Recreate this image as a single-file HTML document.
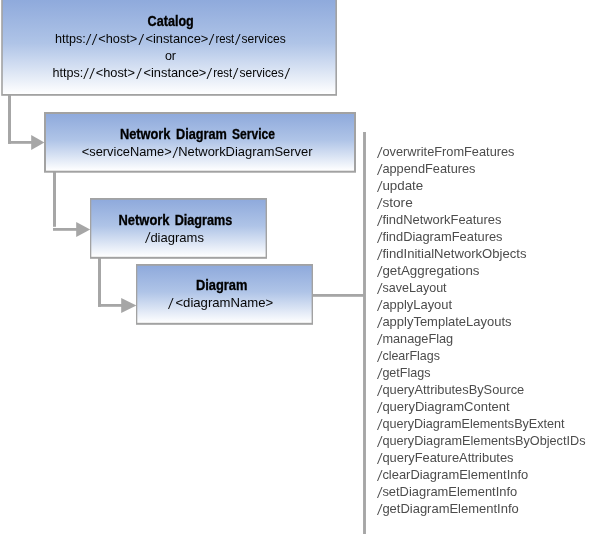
<!DOCTYPE html>
<html lang="en"><head><meta charset="utf-8"><title>Network Diagram Service</title>
<style>
html,body{margin:0;padding:0;background:#fff;}
body{width:609px;height:534px;overflow:hidden;}
svg{display:block;will-change:transform;}
text{font-family:"Liberation Sans",Arial,sans-serif;font-size:13px;}
.b{font-weight:bold;fill:#000;stroke:#000;stroke-width:.3px;font-size:13.8px;}
.n{fill:#050505;}
.l{fill:#4c4c4c;}
.s{font-size:15.2px;font-style:italic;}
</style></head><body>
<svg width="609" height="534" viewBox="0 0 609 534">
<defs>
<linearGradient id="g" x1="0" y1="0" x2="0" y2="1">
<stop offset="0" stop-color="#8faadc"/>
<stop offset="0.46" stop-color="#afc4e7"/>
<stop offset="1" stop-color="#ffffff"/>
</linearGradient>
</defs>
<rect x="0" y="0" width="609" height="534" fill="#fff"/>

<g fill="#a6a6a6">
<rect x="8" y="95" width="3" height="48.8"/><rect x="8" y="141" width="25" height="2.8"/><polygon points="31.2,135 44.4,142.4 31.2,149.9"/>
<rect x="53" y="172" width="3" height="54.8"/><rect x="53" y="228" width="25" height="2.8"/><polygon points="76.2,222.1 90.2,229.5 76.2,236.9"/>
<rect x="98" y="258" width="3" height="48.8"/><rect x="98" y="304" width="25" height="2.8"/><polygon points="121.2,297.9 136.4,305.4 121.2,312.9"/>
<rect x="312" y="294" width="52" height="2.8"/><rect x="363.05" y="132" width="2.9" height="402"/>
</g>
<rect x="1.2" y="-2" width="335.8" height="97.8" fill="#a2a2a2"/><rect x="2.8" y="0" width="332.6" height="94.0" fill="url(#g)"/>
<rect x="44" y="112" width="312" height="60.7" fill="#a2a2a2"/><rect x="46" y="114" width="308" height="56.7" fill="url(#g)"/>
<rect x="90" y="198" width="177" height="60.8" fill="#a2a2a2"/><rect x="91.3" y="199.8" width="174.3" height="57.0" fill="url(#g)"/>
<rect x="136" y="264" width="177" height="60.8" fill="#a2a2a2"/><rect x="137.3" y="265.8" width="174.3" height="57.0" fill="url(#g)"/>
<text class="b"><tspan x="147.60" y="26" textLength="46.19" lengthAdjust="spacingAndGlyphs">Catalog</tspan></text>
<text class="n"><tspan x="54.90" y="43" textLength="30.79" lengthAdjust="spacingAndGlyphs">https:</tspan><tspan class="s" x="86.6" y="44.8" textLength="3.67" lengthAdjust="spacingAndGlyphs">/</tspan><tspan class="s" x="92.4" y="44.8" textLength="3.67" lengthAdjust="spacingAndGlyphs">/</tspan><tspan x="98.30" y="43" textLength="38.98" lengthAdjust="spacingAndGlyphs">&lt;host&gt;</tspan><tspan class="s" x="139.3" y="44.8" textLength="3.67" lengthAdjust="spacingAndGlyphs">/</tspan><tspan x="145.40" y="43" textLength="62.99" lengthAdjust="spacingAndGlyphs">&lt;instance&gt;</tspan><tspan class="s" x="209.4" y="44.8" textLength="3.67" lengthAdjust="spacingAndGlyphs">/</tspan><tspan x="215.40" y="43" textLength="18.86" lengthAdjust="spacingAndGlyphs">rest</tspan><tspan class="s" x="235.7" y="44.8" textLength="3.67" lengthAdjust="spacingAndGlyphs">/</tspan><tspan x="241.60" y="43" textLength="44.14" lengthAdjust="spacingAndGlyphs">services</tspan></text>
<text class="n"><tspan x="164.90" y="60" textLength="11.15" lengthAdjust="spacingAndGlyphs">or</tspan></text>
<text class="n"><tspan x="52.50" y="77" textLength="30.79" lengthAdjust="spacingAndGlyphs">https:</tspan><tspan class="s" x="84.1" y="78.8" textLength="3.67" lengthAdjust="spacingAndGlyphs">/</tspan><tspan class="s" x="90.0" y="78.8" textLength="3.67" lengthAdjust="spacingAndGlyphs">/</tspan><tspan x="95.70" y="77" textLength="39.18" lengthAdjust="spacingAndGlyphs">&lt;host&gt;</tspan><tspan class="s" x="137.0" y="78.8" textLength="3.67" lengthAdjust="spacingAndGlyphs">/</tspan><tspan x="143.50" y="77" textLength="62.78" lengthAdjust="spacingAndGlyphs">&lt;instance&gt;</tspan><tspan class="s" x="207.3" y="78.8" textLength="3.67" lengthAdjust="spacingAndGlyphs">/</tspan><tspan x="213.20" y="77" textLength="18.96" lengthAdjust="spacingAndGlyphs">rest</tspan><tspan class="s" x="233.5" y="78.8" textLength="3.67" lengthAdjust="spacingAndGlyphs">/</tspan><tspan x="239.50" y="77" textLength="44.24" lengthAdjust="spacingAndGlyphs">services</tspan><tspan class="s" x="285.3" y="78.8" textLength="3.67" lengthAdjust="spacingAndGlyphs">/</tspan></text>
<text class="b"><tspan x="119.90" y="139" textLength="50.60" lengthAdjust="spacingAndGlyphs">Network</tspan> <tspan x="176.00" y="139" textLength="50.95" lengthAdjust="spacingAndGlyphs">Diagram</tspan> <tspan x="232.00" y="139" textLength="42.91" lengthAdjust="spacingAndGlyphs">Service</tspan></text>
<text class="n"><tspan x="81.80" y="156" textLength="89.88" lengthAdjust="spacingAndGlyphs">&lt;serviceName&gt;</tspan><tspan class="s" x="173.2" y="157.8" textLength="3.67" lengthAdjust="spacingAndGlyphs">/</tspan><tspan x="178.21" y="156" textLength="134.33" lengthAdjust="spacingAndGlyphs">NetworkDiagramServer</tspan></text>
<text class="b"><tspan x="118.50" y="224.5" textLength="50.99" lengthAdjust="spacingAndGlyphs">Network</tspan> <tspan x="174.70" y="224.5" textLength="57.60" lengthAdjust="spacingAndGlyphs">Diagrams</tspan></text>
<text class="n"><tspan class="s" x="145.8" y="243.4" textLength="3.67" lengthAdjust="spacingAndGlyphs">/</tspan><tspan x="150.40" y="241.6" textLength="53.50" lengthAdjust="spacingAndGlyphs">diagrams</tspan></text>
<text class="b"><tspan x="195.90" y="289.6" textLength="51.45" lengthAdjust="spacingAndGlyphs">Diagram</tspan></text>
<text class="n"><tspan class="s" x="168.7" y="308.6" textLength="3.67" lengthAdjust="spacingAndGlyphs">/</tspan><tspan x="175.40" y="306.8" textLength="97.90" lengthAdjust="spacingAndGlyphs">&lt;diagramName&gt;</tspan></text>
<text class="l"><tspan class="s" x="377.8" y="157.8" textLength="3.67" lengthAdjust="spacingAndGlyphs">/</tspan><tspan x="382.40" y="156" textLength="132.11" lengthAdjust="spacingAndGlyphs">overwriteFromFeatures</tspan></text>
<text class="l"><tspan class="s" x="377.8" y="174.8" textLength="3.67" lengthAdjust="spacingAndGlyphs">/</tspan><tspan x="382.40" y="173" textLength="93.11" lengthAdjust="spacingAndGlyphs">appendFeatures</tspan></text>
<text class="l"><tspan class="s" x="377.8" y="191.8" textLength="3.67" lengthAdjust="spacingAndGlyphs">/</tspan><tspan x="382.40" y="190" textLength="40.84" lengthAdjust="spacingAndGlyphs">update</tspan></text>
<text class="l"><tspan class="s" x="377.8" y="208.8" textLength="3.67" lengthAdjust="spacingAndGlyphs">/</tspan><tspan x="382.40" y="207" textLength="30.34" lengthAdjust="spacingAndGlyphs">store</tspan></text>
<text class="l"><tspan class="s" x="377.8" y="225.8" textLength="3.67" lengthAdjust="spacingAndGlyphs">/</tspan><tspan x="382.40" y="224" textLength="119.10" lengthAdjust="spacingAndGlyphs">findNetworkFeatures</tspan></text>
<text class="l"><tspan class="s" x="377.8" y="242.8" textLength="3.67" lengthAdjust="spacingAndGlyphs">/</tspan><tspan x="382.40" y="241" textLength="120.11" lengthAdjust="spacingAndGlyphs">findDiagramFeatures</tspan></text>
<text class="l"><tspan class="s" x="377.8" y="259.8" textLength="3.67" lengthAdjust="spacingAndGlyphs">/</tspan><tspan x="382.40" y="258" textLength="144.10" lengthAdjust="spacingAndGlyphs">findInitialNetworkObjects</tspan></text>
<text class="l"><tspan class="s" x="377.8" y="276.8" textLength="3.67" lengthAdjust="spacingAndGlyphs">/</tspan><tspan x="382.40" y="275" textLength="97.09" lengthAdjust="spacingAndGlyphs">getAggregations</tspan></text>
<text class="l"><tspan class="s" x="377.8" y="293.8" textLength="3.67" lengthAdjust="spacingAndGlyphs">/</tspan><tspan x="382.40" y="292" textLength="64.23" lengthAdjust="spacingAndGlyphs">saveLayout</tspan></text>
<text class="l"><tspan class="s" x="377.8" y="310.8" textLength="3.67" lengthAdjust="spacingAndGlyphs">/</tspan><tspan x="382.40" y="309" textLength="69.71" lengthAdjust="spacingAndGlyphs">applyLayout</tspan></text>
<text class="l"><tspan class="s" x="377.8" y="327.8" textLength="3.67" lengthAdjust="spacingAndGlyphs">/</tspan><tspan x="382.40" y="326" textLength="129.10" lengthAdjust="spacingAndGlyphs">applyTemplateLayouts</tspan></text>
<text class="l"><tspan class="s" x="377.8" y="344.8" textLength="3.67" lengthAdjust="spacingAndGlyphs">/</tspan><tspan x="382.40" y="343" textLength="70.83" lengthAdjust="spacingAndGlyphs">manageFlag</tspan></text>
<text class="l"><tspan class="s" x="377.8" y="361.8" textLength="3.67" lengthAdjust="spacingAndGlyphs">/</tspan><tspan x="382.40" y="360" textLength="57.62" lengthAdjust="spacingAndGlyphs">clearFlags</tspan></text>
<text class="l"><tspan class="s" x="377.8" y="378.8" textLength="3.67" lengthAdjust="spacingAndGlyphs">/</tspan><tspan x="382.40" y="377" textLength="48.12" lengthAdjust="spacingAndGlyphs">getFlags</tspan></text>
<text class="l"><tspan class="s" x="377.8" y="395.8" textLength="3.67" lengthAdjust="spacingAndGlyphs">/</tspan><tspan x="382.40" y="394" textLength="141.83" lengthAdjust="spacingAndGlyphs">queryAttributesBySource</tspan></text>
<text class="l"><tspan class="s" x="377.8" y="412.8" textLength="3.67" lengthAdjust="spacingAndGlyphs">/</tspan><tspan x="382.40" y="411" textLength="127.21" lengthAdjust="spacingAndGlyphs">queryDiagramContent</tspan></text>
<text class="l"><tspan class="s" x="377.8" y="429.8" textLength="3.67" lengthAdjust="spacingAndGlyphs">/</tspan><tspan x="382.40" y="428" textLength="182.22" lengthAdjust="spacingAndGlyphs">queryDiagramElementsByExtent</tspan></text>
<text class="l"><tspan class="s" x="377.8" y="446.8" textLength="3.67" lengthAdjust="spacingAndGlyphs">/</tspan><tspan x="382.40" y="445" textLength="203.11" lengthAdjust="spacingAndGlyphs">queryDiagramElementsByObjectIDs</tspan></text>
<text class="l"><tspan class="s" x="377.8" y="463.8" textLength="3.67" lengthAdjust="spacingAndGlyphs">/</tspan><tspan x="382.40" y="462" textLength="131.10" lengthAdjust="spacingAndGlyphs">queryFeatureAttributes</tspan></text>
<text class="l"><tspan class="s" x="377.8" y="480.8" textLength="3.67" lengthAdjust="spacingAndGlyphs">/</tspan><tspan x="382.40" y="479" textLength="145.83" lengthAdjust="spacingAndGlyphs">clearDiagramElementInfo</tspan></text>
<text class="l"><tspan class="s" x="377.8" y="497.8" textLength="3.67" lengthAdjust="spacingAndGlyphs">/</tspan><tspan x="382.40" y="496" textLength="134.83" lengthAdjust="spacingAndGlyphs">setDiagramElementInfo</tspan></text>
<text class="l"><tspan class="s" x="377.8" y="514.8" textLength="3.67" lengthAdjust="spacingAndGlyphs">/</tspan><tspan x="382.40" y="513" textLength="136.33" lengthAdjust="spacingAndGlyphs">getDiagramElementInfo</tspan></text>
</svg></body></html>
